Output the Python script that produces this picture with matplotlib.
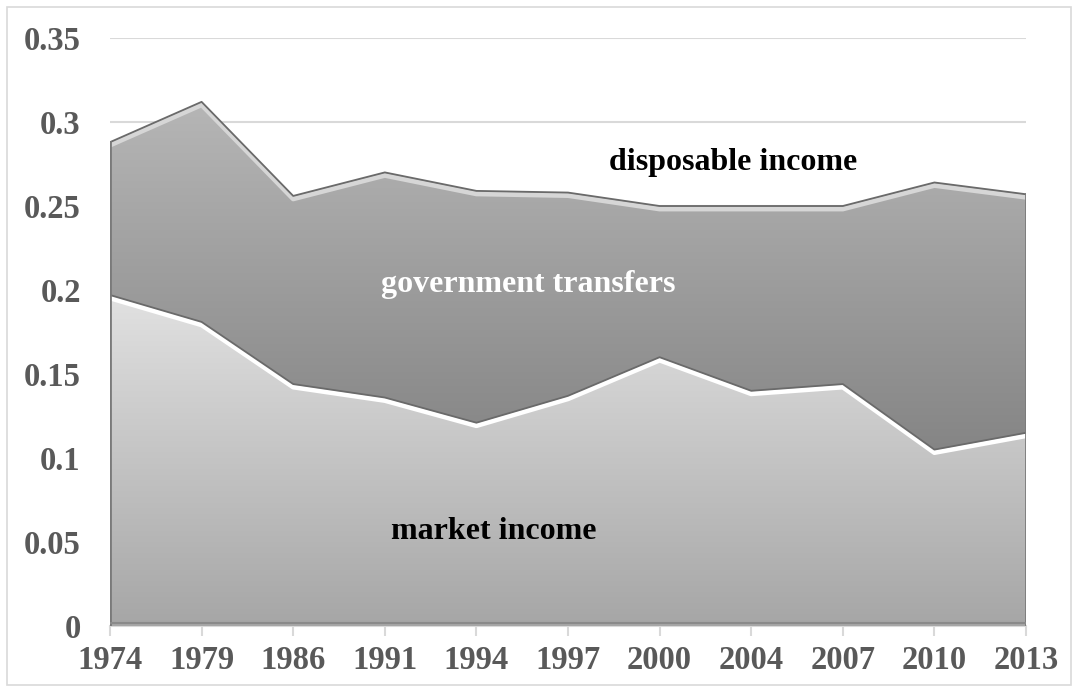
import numpy as np
import matplotlib
matplotlib.use('Agg')
import matplotlib.pyplot as plt
from matplotlib.colors import LinearSegmentedColormap
import matplotlib.transforms as mtransforms
from matplotlib.patches import Rectangle

years = ['1974', '1979', '1986', '1991', '1994', '1997', '2000', '2004', '2007', '2010', '2013']
disposable = [0.288, 0.312, 0.256, 0.270, 0.259, 0.258, 0.250, 0.250, 0.250, 0.264, 0.257]
market = [0.197, 0.181, 0.144, 0.136, 0.121, 0.137, 0.160, 0.140, 0.144, 0.105, 0.115]
y_ticks = [0, 0.05, 0.1, 0.15, 0.2, 0.25, 0.3, 0.35]
y_tick_labels = ['0', '0.05', '0.1', '0.15', '0.2', '0.25', '0.3', '0.35']

plt.rcParams['font.family'] = ['Liberation Serif', 'DejaVu Serif']
plt.rcParams['font.weight'] = 'bold'

W, H = 1078, 692
fig = plt.figure(figsize=(W / 100, H / 100), dpi=100)
fig.patches.append(Rectangle((7 / W, 7 / H), 1064 / W, 678 / H, transform=fig.transFigure,
                             fill=False, edgecolor='#d9d9d9', lw=1.2, zorder=0))
ax = fig.add_axes([110 / W, 1 - 626 / H, 916 / W, 588 / H])
x = np.arange(len(years))
n = len(years) - 1


def grad_fill(lower, upper, c_top, c_bot, y_bot, y_top, z):
    poly = ax.fill_between(x, lower, upper, color='none', lw=0, zorder=z)
    cmap = LinearSegmentedColormap.from_list('g', [c_bot, c_top])
    grad = np.linspace(0, 1, 256).reshape(-1, 1)
    im = ax.imshow(grad, extent=[0, n, y_bot, y_top], origin='lower', cmap=cmap,
                   aspect='auto', zorder=z, interpolation='bicubic')
    im.set_clip_path(poly.get_paths()[0], transform=ax.transData)


grad_fill(np.zeros(len(years)), market, '#e2e2e2', '#a6a6a6', 0, 0.2, 2)
grad_fill(market, disposable, '#b8b8b8', '#848484', 0.1, 0.32, 2)

down3 = mtransforms.offset_copy(ax.transData, fig=fig, x=0, y=-3, units='dots')
# bevel highlights
ax.plot(x, disposable, color='#d6d6d6', lw=3.5, transform=down3, zorder=3, solid_joinstyle='round')
ax.plot(x, market, color='#ffffff', lw=3.5, transform=down3, zorder=3, solid_joinstyle='round')
# edges
ax.plot(x, disposable, color='#6a6a6a', lw=1.3, zorder=4)
ax.plot(x, market, color='#6a6a6a', lw=1.3, zorder=4)
ax.plot([0, 0], [0, disposable[0]], color='#7a7a7a', lw=2, zorder=4)
ax.plot([n, n], [0, disposable[-1]], color='#7a7a7a', lw=2, zorder=4)
ax.plot([0, n], [0.0015, 0.0015], color='#8a8a8a', lw=1.5, zorder=4)

ax.set_xlim(0, n)
ax.set_ylim(0, 0.35)
ax.set_xticks(x)
ax.set_xticklabels(years)
ax.set_yticks(y_ticks)
ax.set_yticklabels(y_tick_labels)
ax.yaxis.grid(True, color='#d9d9d9', lw=1.5)
ax.set_axisbelow(True)
for s in ['top', 'right', 'left']:
    ax.spines[s].set_visible(False)
ax.spines['bottom'].set_color('#d9d9d9')
ax.spines['bottom'].set_linewidth(1.5)
ax.spines['bottom'].set_zorder(1)
ax.tick_params(axis='y', length=0, pad=21, labelsize=23.5, labelcolor='#595959')
ax.tick_params(axis='x', length=7, width=1.5, color='#d9d9d9', pad=7, labelsize=23.5,
               labelcolor='#595959')
for lab in ax.get_xticklabels() + ax.get_yticklabels():
    lab.set_fontweight('bold')

ax.text(6.8, 0.2756, 'disposable income', ha='center', va='center', fontsize=23,
        fontweight='bold', color='black', zorder=6)
ax.text(4.57, 0.203, 'government transfers', ha='center', va='center', fontsize=23,
        fontweight='bold', color='white', zorder=6)
ax.text(4.19, 0.0565, 'market income', ha='center', va='center', fontsize=23,
        fontweight='bold', color='black', zorder=6)

fig.savefig('out.png', dpi=100)
